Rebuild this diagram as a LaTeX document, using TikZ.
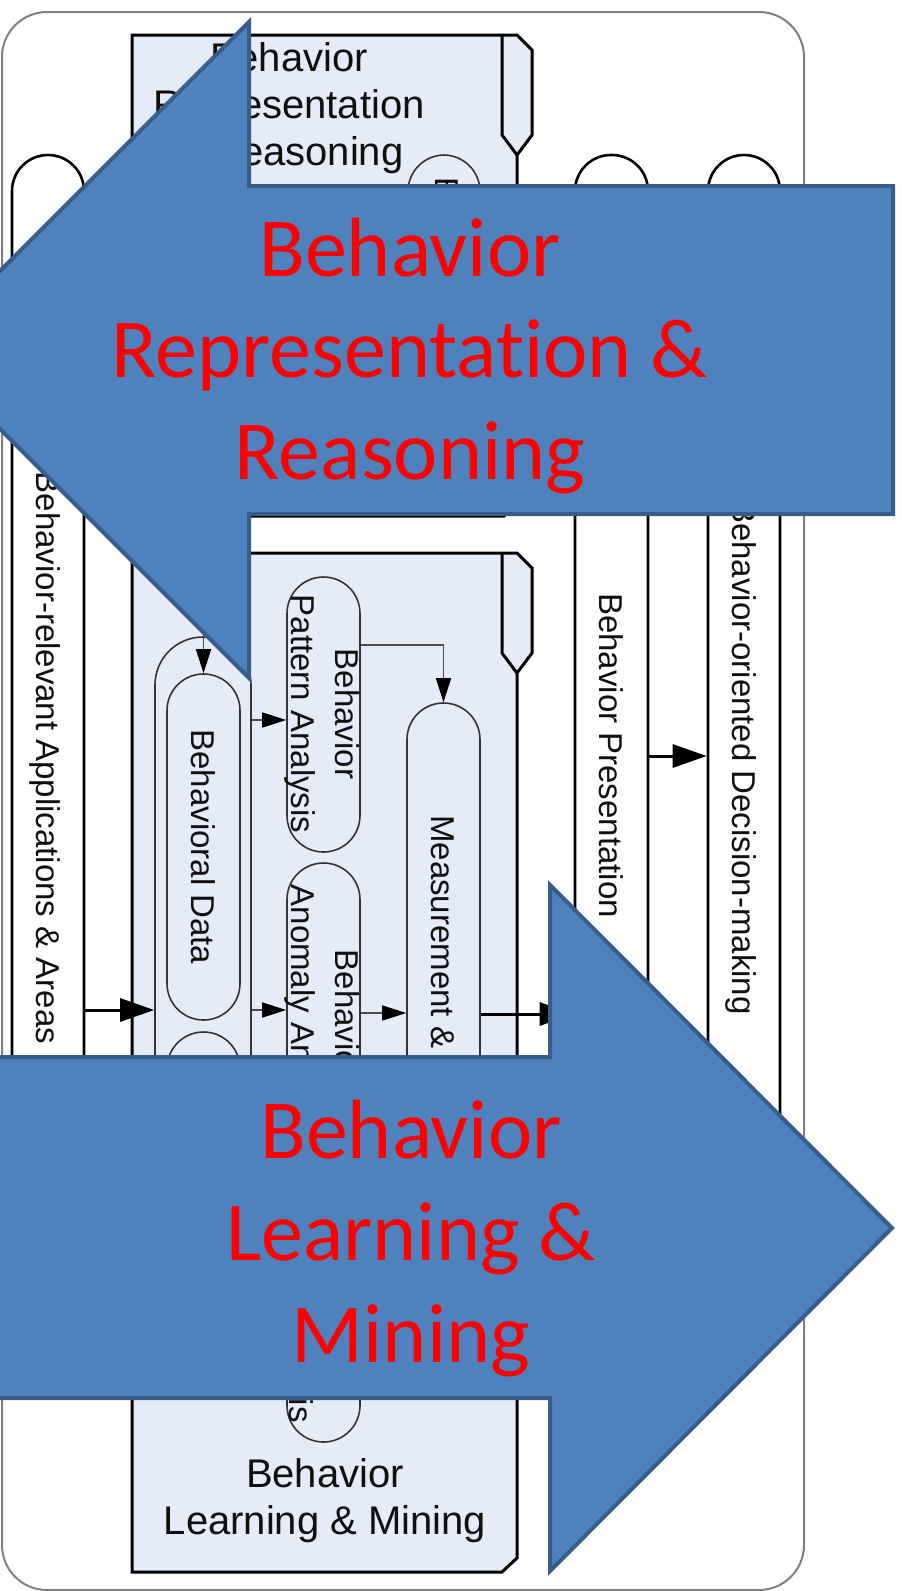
\documentclass[tikz,border=0pt]{standalone}
\usepackage{fontspec}
\usepackage{graphicx}
\setmainfont{Liberation Sans}
\newfontfamily\calibrifont[Ligatures={NoCommon}]{Carlito}
\usetikzlibrary{arrows.meta}
\definecolor{boxfill}{RGB}{230,236,247}
\definecolor{arrowfill}{RGB}{79,129,189}
\definecolor{arrowline}{RGB}{56,93,138}
\definecolor{outergray}{RGB}{128,128,128}
\definecolor{inkgray}{RGB}{15,15,15}

\begin{document}
\begin{tikzpicture}[x=1pt,y=-1pt,
  lane/.style={draw=black, line width=2.6pt, fill=white, rounded corners=36pt,
    inner sep=0pt, minimum width=72pt, minimum height=1205pt},
  pill/.style={draw=black!80, line width=1.6pt, rounded corners=36.5pt,
    inner sep=0pt, minimum width=73pt},
  boxline/.style={draw=black, line width=3pt, fill=boxfill, line join=miter},
  vlabel/.style={rotate=-90, inner sep=0pt, text=inkgray,
    font=\fontsize{33}{44}\selectfont, align=center},
  hlabel/.style={inner sep=0pt, anchor=base, text=inkgray,
    font=\fontsize{40}{47}\selectfont},
  thinarrow/.style={draw=black!70, line width=1.5pt,
    -{Triangle[length=24pt,width=15pt,color=black]}},
  thickarrow/.style={draw=black, line width=3pt,
    -{Triangle[length=34pt,width=23pt,color=black]}},
  bigarrow/.style={fill=arrowfill, draw=arrowline, line width=4pt, line join=miter},
  redlabel/.style={inner sep=0pt, anchor=base, text=red,
    font=\calibrifont\fontsize{84}{101}\selectfont}]

\useasboundingbox (0,0) rectangle (902,1591);
\clip (0,0) rectangle (902,1591);

% outer frame
\draw[outergray, line width=2pt, rounded corners=45pt] (2,12) rectangle (804,1590);

% swim lanes
\node[lane] (L1) at (48,757.5) {};
\node[lane, minimum width=73pt] (L2) at (611.5,757.5) {};
\node[lane] (L3) at (744,757.5) {};
\node[vlabel, anchor=base] (L1t) at (36.2,758) {Behavior-relevant Applications \& Areas};
\node[vlabel, anchor=base] (L2t) at (599.7,755.5) {Behavior Presentation};
\node[vlabel, anchor=base] (L3t) at (732.2,758) {Behavior-oriented Decision-making};

% upper sub-process box
\draw[boxline] (132,35) -- (517,35) -- (532,50) -- (532,135) -- (517,155)
  -- (517,503) -- (504,516) -- (132,516) -- cycle;
\draw[black, line width=3pt, line join=miter] (502,35) -- (502,135) -- (517,155);
\node[hlabel] (rr1) at (289,71) {Behavior};
\node[hlabel] (rr2) at (289,118) {Representation};
\node[hlabel] (rr3) at (289,165) {\& Reasoning};
\node[pill, minimum width=72pt, minimum height=325pt] (TP) at (444,317.5) {};
\node[vlabel, anchor=base west] (TPt) at (435,177) {Behavior};

% lower sub-process box
\draw[boxline] (132,553) -- (517,553) -- (532,568) -- (532,653) -- (517,673)
  -- (517,1558) -- (502,1572) -- (132,1572) -- cycle;
\draw[black, line width=3pt, line join=miter] (502,553) -- (502,653) -- (517,673);
\node[hlabel] (lm1) at (325,1487) {Behavior};
\node[hlabel] (lm2) at (325,1534) {Learning \& Mining};

% activities inside the lower box
\node[pill, minimum width=96pt, minimum height=753pt, rounded corners=48pt] (C) at (203,1013.5) {};
\node[pill, minimum height=346pt] (BD) at (203.5,847) {};
\node[pill, minimum height=338pt] (BD2) at (203.5,1201) {};
\node[pill, minimum height=275pt] (BPA) at (323.5,714.5) {};
\node[pill, minimum height=304pt] (BAA) at (323.5,1015) {};
\node[pill, minimum height=262pt] (P3) at (323.5,1311) {};
\node[pill, minimum height=620pt] (ME) at (443.5,1013) {};

\node[vlabel] (BDt) at (203.5,847) {Behavioral Data};
\node[vlabel] (BPAt) at (322,714) {Behavior\\Pattern Analysis};
\node[vlabel] (BAAt) at (322,1015) {Behavior\\Anomaly Analysis};
\node[vlabel, anchor=base east] (P3t) at (289,1423) {Analysis};
\node[vlabel, anchor=base west] (MEt) at (431.7,815) {Measurement \&};

% flows
\coordinate (feed) at (203.5,590);
\draw[thinarrow] (feed) -- (BD.north);
\draw[thinarrow] (C.east |- 0,720) -- (BPA.west |- 0,720);
\draw[thinarrow] (BPA.east |- 0,645) -| (ME.north);
\draw[thinarrow] (C.east |- 0,1010) -- (BAA.west |- 0,1010);
\draw[thinarrow] (BAA.east |- 0,1013) -- (ME.west |- 0,1013);
\draw[thickarrow] (L1.east |- 0,1010) -- (C.west |- 0,1010);
\draw[thickarrow] (ME.east |- 0,1014) -- (L2.west |- 0,1014);
\draw[thickarrow] (L2.east |- 0,756) -- (L3.west |- 0,756);

% overlay block arrows
\draw[bigarrow] (893,186) -- (249,186) -- (249,22) -- (-79,350) -- (249,678)
  -- (249,514) -- (893,514) -- cycle;
\node[redlabel] (up1) at (410,276) {Behavior};
\node[redlabel] (up2) at (410,377) {Representation \&};
\node[redlabel] (up3) at (410,479) {Reasoning};

\draw[bigarrow] (-70,1057) -- (550,1057) -- (550,885) -- (892,1228) -- (550,1571)
  -- (550,1398) -- (-70,1398) -- cycle;
\node[redlabel] (dn1) at (411,1158) {Behavior};
\node[redlabel] (dn2) at (411,1260) {Learning \&};
\node[redlabel] (dn3) at (411,1362) {Mining};
\end{tikzpicture}
\end{document}
